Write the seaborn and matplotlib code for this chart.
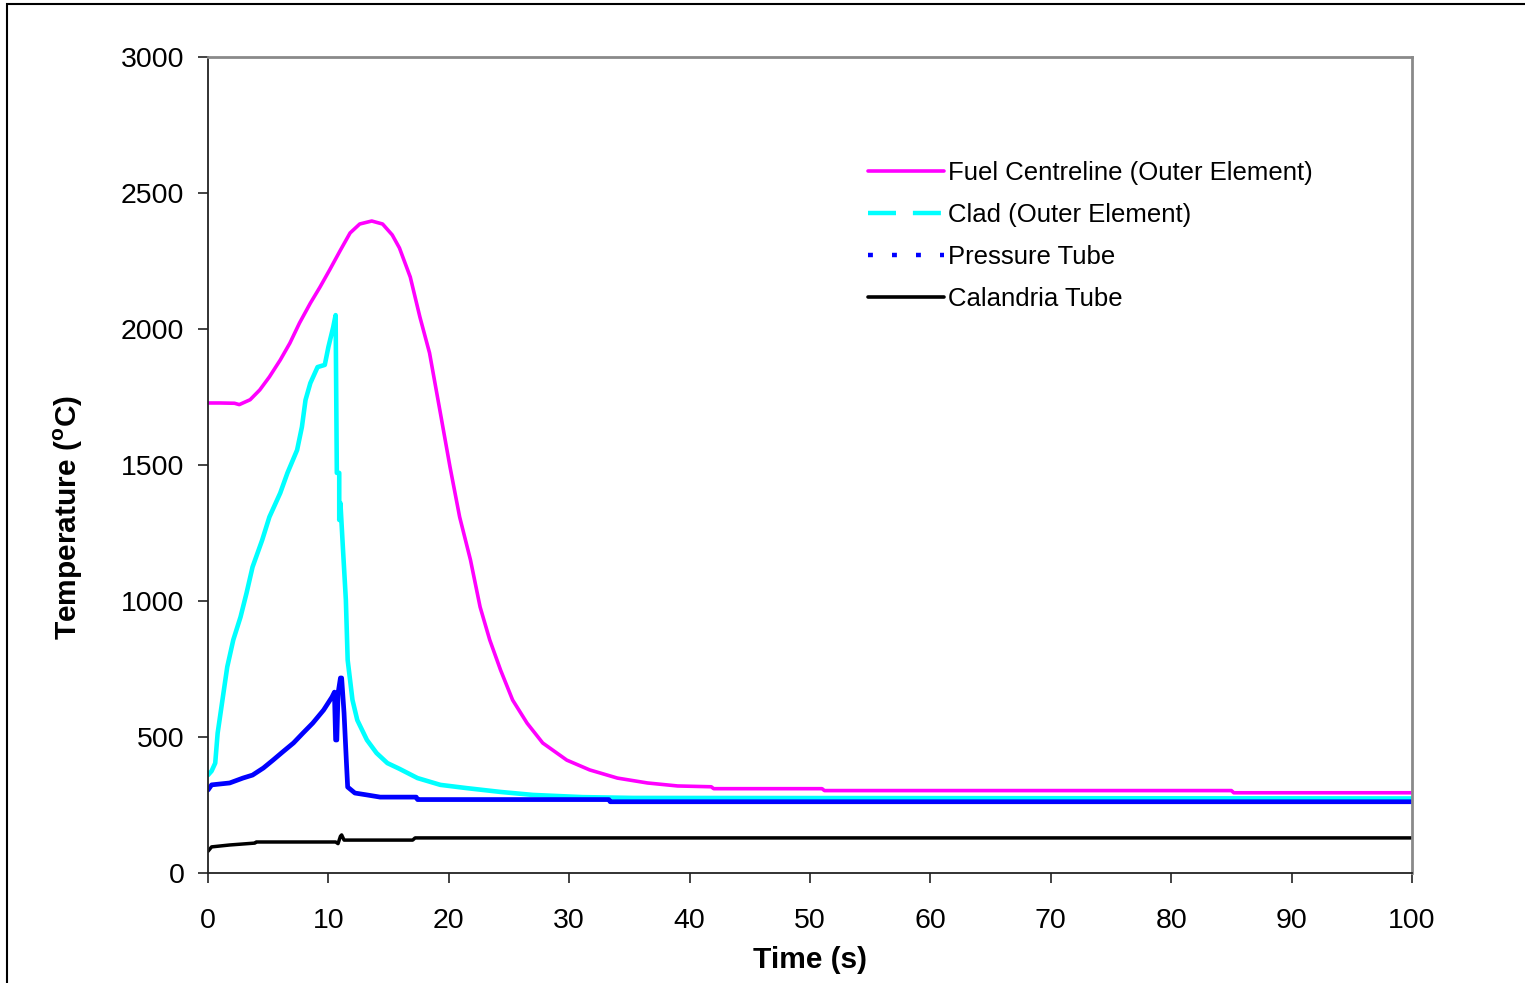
import matplotlib
matplotlib.use("Agg")
import matplotlib.pyplot as plt
from matplotlib.lines import Line2D
from matplotlib.patches import Rectangle
import seaborn as sns

# --- data ---
fuel_t = [0, 1, 2.2, 2.6, 3.0, 3.5, 4.3, 5.1, 6.0, 6.8, 7.6, 8.5, 9.3, 10.1, 11.0,
          11.8, 12.6, 13.6, 14.5, 15.3, 15.9, 16.8, 17.6, 18.4, 19.3, 20.1, 20.9,
          21.8, 22.6, 23.4, 24.3, 25.3, 26.5, 27.8, 29.8, 31.7, 34.0, 36.5, 39.0,
          41.8, 42.0, 51.0, 51.2, 85.0, 85.2, 100]
fuel_T = [1728, 1728, 1727, 1722, 1730, 1740, 1776, 1824, 1886, 1948, 2022, 2095,
          2154, 2217, 2290, 2353, 2386, 2397, 2386, 2346, 2298, 2191, 2044, 1912,
          1691, 1493, 1309, 1151, 978, 857, 746, 636, 551, 478, 415, 379, 349, 331,
          320, 317, 310, 310, 303, 303, 295, 295]

clad_t = [0, 0.3, 0.6, 0.8, 1.2, 1.6, 2.1, 2.7, 3.2, 3.7, 4.5, 5.1, 6.0, 6.6, 7.4,
          7.8, 8.1, 8.5, 9.1, 9.7, 10.0, 10.4, 10.6, 10.7, 10.9, 10.9, 11.0, 11.2,
          11.45, 11.6, 12.0, 12.4, 13.2, 14.0, 14.9, 15.9, 17.4, 19.3, 21.5, 24.3,
          27.0, 31.1, 35.3, 100]
clad_T = [360, 375, 404, 514, 636, 758, 857, 941, 1029, 1125, 1224, 1309, 1397,
          1471, 1555, 1640, 1739, 1801, 1860, 1868, 1934, 2007, 2051, 1471, 1471,
          1298, 1360, 1199, 1004, 783, 636, 562, 489, 441, 404, 383, 349, 324, 312,
          298, 287, 279, 276, 274]

pt_t = [0, 0.3, 1.8, 2.9, 3.7, 4.6, 5.4, 6.2, 7.1, 7.9, 8.7, 9.6, 10.3, 10.5, 10.6,
        10.7, 10.8, 11.0, 11.1, 11.3, 11.5, 11.6, 12.2, 13.2, 14.3, 17.3, 17.4,
        33.3, 33.4, 100]
pt_T = [305, 324, 331, 349, 360, 386, 415, 445, 478, 515, 551, 599, 647, 665, 489,
        489, 660, 717, 717, 588, 404, 316, 294, 287, 279, 279, 270, 270, 262, 262]

ct_t = [0, 0.3, 1.8, 3.9, 4.0, 10.6, 10.8, 11.0, 11.1, 11.3, 17.0, 17.2, 100]
ct_T = [80, 96, 103, 110, 114, 114, 108, 135, 140, 121, 121, 129, 129]

labels = ["Fuel Centreline (Outer Element)", "Clad (Outer Element)",
          "Pressure Tube", "Calandria Tube"]
colors = ["#FF00FF", "#00FFFF", "#0000FF", "#000000"]

sns.set_style("white")
plt.rcParams["font.family"] = ["Liberation Sans", "DejaVu Sans"]
plt.rcParams["text.color"] = "black"
plt.rcParams["axes.labelcolor"] = "black"
plt.rcParams["mathtext.fontset"] = "custom"
plt.rcParams["mathtext.rm"] = "Liberation Sans"
plt.rcParams["mathtext.bf"] = "Liberation Sans:bold"

fig = plt.figure(figsize=(15.25, 9.83), dpi=100)
fig.patch.set_facecolor("white")
ax = fig.add_axes([208 / 1525, 1 - 873 / 983, 1204 / 1525, 816 / 983])

series = [(fuel_t, fuel_T, 2.6), (clad_t, clad_T, 3.3),
          (pt_t, pt_T, 3.4), (ct_t, ct_T, 2.5)]
for (t, T, lw), c in zip(series, colors):
    sns.lineplot(x=t, y=T, ax=ax, color=c, lw=lw, estimator=None, sort=False)

ax.set_xlim(0, 100)
ax.set_ylim(0, 3000)
ax.set_xticks(range(0, 101, 10))
ax.set_yticks(range(0, 3001, 500))
ax.tick_params(axis="both", which="both", direction="out", length=7, width=1.2,
               color="#222222", labelsize=20.5, labelcolor="black")
ax.tick_params(axis="y", pad=10, left=True)
ax.tick_params(axis="x", pad=18, bottom=True)

for side in ["left", "bottom"]:
    ax.spines[side].set_color("#222222")
    ax.spines[side].set_linewidth(1.3)
for side in ["top", "right"]:
    ax.spines[side].set_color("#8a8a8a")
    ax.spines[side].set_linewidth(2)

ax.set_xlabel("Time (s)", fontsize=21.5, fontweight="bold")
ax.set_ylabel(r"Temperature ($^{\mathbf{o}}$C)", fontsize=21.5, fontweight="bold")
ax.xaxis.set_label_coords(0.5, -0.090)
ax.yaxis.set_label_coords(-0.102, 0.436)

handles = [
    Line2D([], [], color=colors[0], lw=2.6, linestyle="-"),
    Line2D([], [], color=colors[1], lw=3.2, linestyle=(0, (6.3, 3.8))),
    Line2D([], [], color=colors[2], lw=3.2, linestyle=(0, (1.1, 4.3))),
    Line2D([], [], color=colors[3], lw=2.6, linestyle="-"),
]
ax.legend(handles, labels, loc="upper left", bbox_to_anchor=(0.548, 0.873),
          frameon=False, fontsize=18.5, handlelength=2.95, handletextpad=0.18,
          labelspacing=0.71, borderpad=0, borderaxespad=0)

# slide frame around the chart
fig.patches.append(Rectangle((7 / 1525, -0.2), 1.5, 1.2 - 4 / 983,
                             transform=fig.transFigure, fill=False,
                             edgecolor="black", lw=1.5, clip_on=False))

fig.savefig("out.png", dpi=100, facecolor="white")
